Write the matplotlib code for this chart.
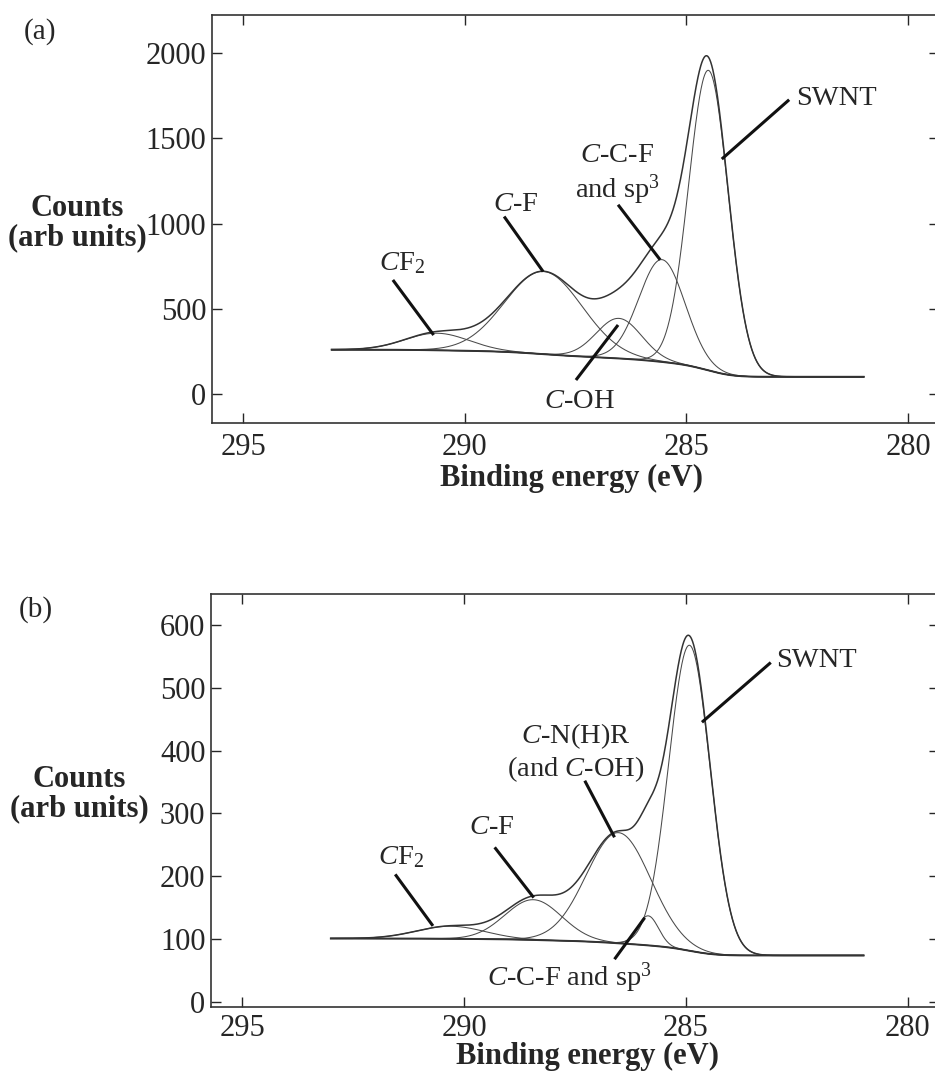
import numpy as np
import matplotlib
matplotlib.use('Agg')
import matplotlib.pyplot as plt

plt.rcParams['font.family'] = ['Liberation Serif', 'DejaVu Serif']
plt.rcParams['mathtext.fontset'] = 'custom'
plt.rcParams['mathtext.rm'] = 'Liberation Serif'
plt.rcParams['mathtext.it'] = 'Liberation Serif:italic'
plt.rcParams['mathtext.bf'] = 'Liberation Serif:bold'

# ---------------- data ----------------
# panel (a)
range_a = [293.0, 281.0]                 # measured binding-energy range (eV)
labels_a = ['SWNT', 'C-C-F and sp3', 'C-OH', 'C-F', 'CF2']
centers_a = [284.50, 285.55, 286.52, 288.22, 290.62]   # eV
heights_a = [1760, 600, 235, 485, 100]                  # counts above background
fwhm_a = [1.05, 1.22, 1.20, 2.05, 1.70]                 # eV
bg_low_a, bg_high_a = 101, 260          # background at low-BE / high-BE end

# panel (b)
range_b = [293.0, 281.0]
labels_b = ['SWNT', 'C-C-F and sp3', 'C-N(H)R', 'C-F', 'CF2']
centers_b = [284.92, 285.85, 286.52, 288.44, 290.30]
heights_b = [486, 47, 176, 64, 20]
fwhm_b = [1.10, 0.55, 1.70, 1.50, 1.80]
bg_low_b, bg_high_b = 74, 101

xticks = [295, 290, 285, 280]
yticks_a = [0, 500, 1000, 1500, 2000]
yticks_b = [0, 100, 200, 300, 400, 500, 600]

# annotations: (text, text_x, text_y, line_start, line_end)
notes_a = [
    ('SWNT', 281.62, 1736, (282.68, 1726), (284.20, 1378)),
    ('$C$-C-F\nand sp$^3$', 286.56, 1285, (286.54, 1110), (285.59, 787)),
    ('$C$-F', 288.84, 1110, (289.11, 1041), (288.23, 718)),
    ('$C$F$_2$', 291.41, 767, (291.62, 669), (290.70, 346)),
    ('$C$-OH', 287.42, -45, (287.49, 82), (286.54, 405)),
]
notes_b = [
    ('SWNT', 282.07, 543, (283.09, 540), (284.64, 445)),
    ('$C$-N(H)R\n(and $C$-OH)', 287.49, 397, (287.28, 352), (286.61, 262)),
    ('$C$-F', 289.38, 277, (289.31, 246), (288.43, 166)),
    ('$C$F$_2$', 291.41, 230, (291.55, 203), (290.70, 121)),
    ('$C$-C-F and sp$^3$', 287.62, 39, (286.61, 68), (285.93, 134)),
]

W, H = 935, 1074
TXT = '#262626'
CURVE = '#4a4a4a'


def gauss(x, c, h, w):
    s = w / (2 * np.sqrt(2 * np.log(2)))
    return h * np.exp(-0.5 * ((x - c) / s) ** 2)


def draw_panel(ax, rng, centers, heights, fwhm, bg_low, bg_high):
    x = np.linspace(rng[0], rng[1], 1500)          # descending
    peaks = [gauss(x, c, h, w) for c, h, w in zip(centers, heights, fwhm)]
    total = np.sum(peaks, axis=0)
    # Shirley-type background: step proportional to integrated peak area
    cum = np.cumsum(total[::-1])[::-1]
    cum = cum - cum[-1]
    frac = cum / cum[0]
    bg = bg_low + (bg_high - bg_low) * frac
    for p in peaks:
        ax.plot(x, bg + p, color=CURVE, lw=0.75)
    ax.plot(x, bg, color='#333333', lw=1.4)
    ax.plot(x, bg + total, color='#333333', lw=1.1)


def style(ax, ylim, yticks, xpad):
    ax.set_xlim(295.7, 279.3)
    ax.set_ylim(*ylim)
    ax.set_xticks(xticks)
    ax.set_yticks(yticks)
    ax.tick_params(direction='in', length=7, width=1, top=True, right=True,
                   labelsize=22, colors=TXT)
    ax.tick_params(axis='x', pad=xpad)
    ax.tick_params(axis='y', pad=4)
    for sp in ax.spines.values():
        sp.set_color('#333333')
        sp.set_linewidth(1.2)


def annotate(ax, notes):
    for txt, tx, ty, p0, p1 in notes:
        ax.text(tx, ty, txt, fontsize=20.5, color=TXT, ha='center', va='center',
                linespacing=1.15)
        ax.plot([p0[0], p1[0]], [p0[1], p1[1]], color='#111111', lw=2.2,
                solid_capstyle='butt')


fig = plt.figure(figsize=(W / 100, H / 100), dpi=100)


def axes_px(left, top, right, bottom):
    return fig.add_axes([left / W, 1 - bottom / H, (right - left) / W, (bottom - top) / H])


ax_a = axes_px(212, 15, 939, 423)
draw_panel(ax_a, range_a, centers_a, heights_a, fwhm_a, bg_low_a, bg_high_a)
style(ax_a, (-170, 2223), yticks_a, 7)
annotate(ax_a, notes_a)

ax_b = axes_px(211, 594, 939, 1007)
draw_panel(ax_b, range_b, centers_b, heights_b, fwhm_b, bg_low_b, bg_high_b)
style(ax_b, (-8, 649), yticks_b, 5)
annotate(ax_b, notes_b)


def ftext(px, py, s, **kw):
    fig.text(px / W, 1 - py / H, s, color=TXT, ha='center', va='center', **kw)


ftext(40, 32, '(a)', fontsize=21)
ftext(36, 610, '(b)', fontsize=21)
ftext(77, 223, 'Counts\n(arb units)', fontsize=22, fontweight='bold', linespacing=1.0)
ftext(79, 794, 'Counts\n(arb units)', fontsize=22, fontweight='bold', linespacing=1.0)
ftext(572, 478, 'Binding energy (eV)', fontsize=22, fontweight='bold')
ftext(588, 1056, 'Binding energy (eV)', fontsize=22, fontweight='bold')

fig.savefig('out.png', dpi=100, facecolor='white')
